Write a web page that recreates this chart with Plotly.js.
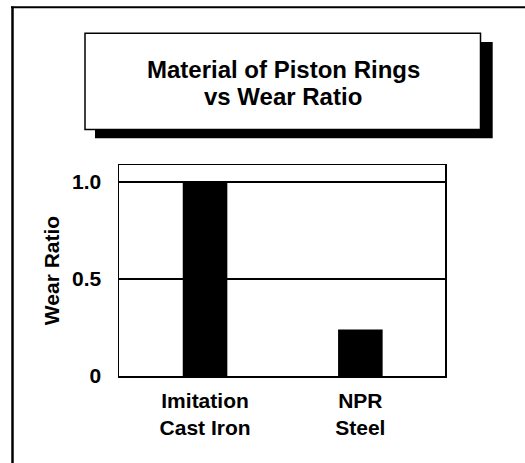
<!DOCTYPE html>
<html>
<head>
<meta charset="utf-8">
<script src="https://cdn.plot.ly/plotly-3.0.1.min.js"></script>
<style>html,body{margin:0;padding:0;background:#fff;}#chart{width:525px;height:463px;}</style>
</head>
<body>
<div id="chart"></div>
<script>
var categories = ["Imitation<br>Cast Iron", "NPR<br>Steel"];
var wearRatio = [1.0, 0.24];
var yTickVals = [0, 0.5, 1.0];
var yTickText = ["0", "0.5", "1.0"];
var titleLines = ["Material of Piston Rings", "vs Wear Ratio"];
var yAxisTitle = "Wear Ratio";

var W = 525, H = 463;
var L = 119, R = 80, T = 165, B = 86.5;
var pw = W - L - R, ph = H - T - B;
function px(x) { return (x - L) / pw; }
function py(y) { return (H - B - y) / ph; }

var FONT = "Liberation Sans, Arial, Helvetica, sans-serif";

var data = [{
  type: "bar",
  x: categories,
  y: wearRatio,
  width: 0.287,
  marker: {color: "#000", line: {width: 0}},
  hoverinfo: "none"
}];

var layout = {
  width: W, height: H,
  margin: {l: L, r: R, t: T, b: B, pad: 0},
  paper_bgcolor: "#fff",
  plot_bgcolor: "#fff",
  showlegend: false,
  font: {family: FONT, color: "#000", weight: "bold"},
  xaxis: {
    type: "category",
    range: [-0.554, 1.545],
    showgrid: false,
    showline: true, mirror: true, linecolor: "#000", linewidth: 1.5,
    ticks: "",
    ticklabelstandoff: 5,
    tickfont: {family: FONT, size: 21, color: "#000", weight: "bold"},
    fixedrange: true
  },
  yaxis: {
    range: [0, 1.088],
    tickvals: yTickVals,
    ticktext: yTickText,
    showgrid: true, gridcolor: "#000", gridwidth: 1.5,
    zeroline: false,
    showline: true, mirror: true, linecolor: "#000", linewidth: 1.5,
    ticks: "",
    ticklabelstandoff: 12,
    tickfont: {family: FONT, size: 21, color: "#000", weight: "bold"},
    title: {text: yAxisTitle, standoff: 6, font: {family: FONT, size: 21, color: "#000", weight: "bold"}},
    fixedrange: true
  },
  shapes: [
    {type: "line", xref: "paper", yref: "paper", x0: px(11), x1: px(530), y0: py(7), y1: py(7), line: {color: "#000", width: 2}},
    {type: "line", xref: "paper", yref: "paper", x0: px(12.5), x1: px(12.5), y0: py(6), y1: py(470), line: {color: "#000", width: 2.5}},
    {type: "rect", xref: "paper", yref: "paper", x0: px(95), x1: px(492.7), y0: py(41.7), y1: py(138.3), fillcolor: "#000", line: {width: 0}},
    {type: "rect", xref: "paper", yref: "paper", x0: px(85), x1: px(480.5), y0: py(33), y1: py(129.3), fillcolor: "#fff", line: {color: "#000", width: 1.5}}
  ],
  annotations: [
    {xref: "paper", yref: "paper", x: px(283), y: py(69), xanchor: "center", yanchor: "middle", showarrow: false, text: titleLines[0], font: {family: FONT, size: 24, color: "#000", weight: "bold"}},
    {xref: "paper", yref: "paper", x: px(283), y: py(96), xanchor: "center", yanchor: "middle", showarrow: false, text: titleLines[1], font: {family: FONT, size: 24, color: "#000", weight: "bold"}}
  ]
};

Plotly.newPlot("chart", data, layout, {staticPlot: true, displayModeBar: false});
</script>
</body>
</html>
